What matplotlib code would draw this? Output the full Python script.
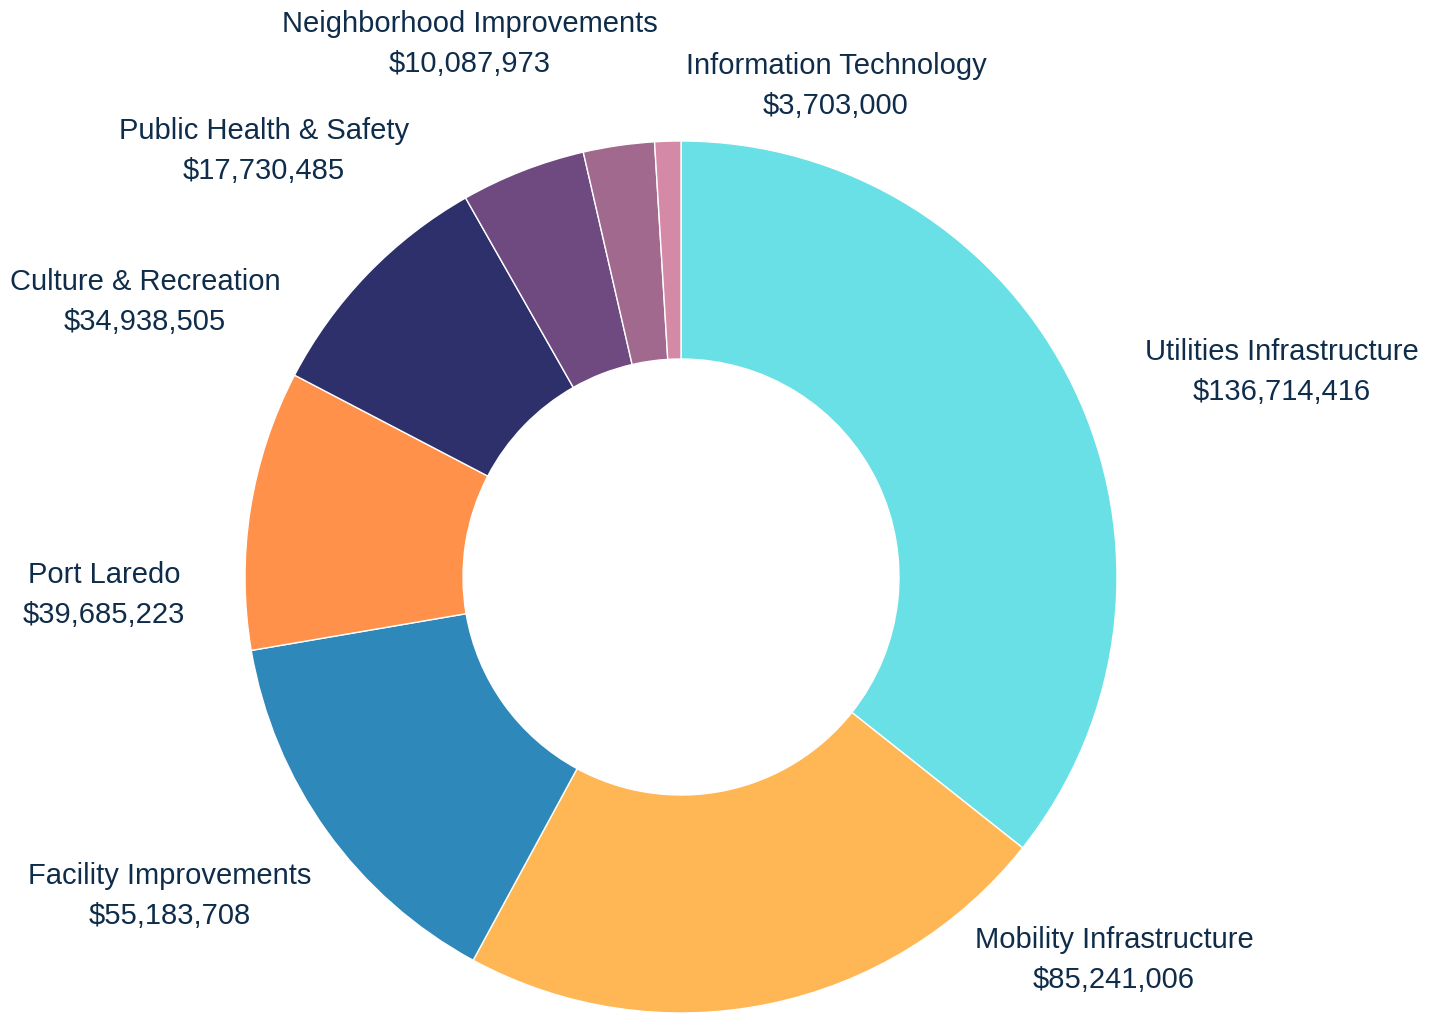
import matplotlib
matplotlib.use("Agg")
import matplotlib.pyplot as plt

# budget by program category (clockwise from the top)
categories = ["Utilities Infrastructure", "Mobility Infrastructure", "Facility Improvements",
              "Port Laredo", "Culture & Recreation", "Public Health & Safety",
              "Neighborhood Improvements", "Information Technology"]
amounts = [136714416, 85241006, 55183708, 39685223, 34938505, 17730485, 10087973, 3703000]
colors = ["#69e0e6", "#ffb755", "#2e88b9", "#ff914a", "#2d306b", "#6f4a80", "#a2698f", "#d48aa6"]

# label centres in pixels (x, y from top)
label_pos = [(1282, 372), (1114, 960), (170, 896), (104, 595),
             (145, 302), (264, 151), (470, 44), (836, 86)]

W, H = 1436, 1013
cx, cy, R = 681, 577, 436

plt.rcParams['font.family'] = ['Liberation Sans', 'DejaVu Sans']
fig = plt.figure(figsize=(W / 100, H / 100), dpi=100)
ax = fig.add_axes([0, 0, 1, 1])

ax.pie(amounts, colors=colors, startangle=90, counterclock=False, radius=1,
       wedgeprops=dict(width=0.5, edgecolor="white", linewidth=1))
ax.set_xlim(-cx / R, (W - cx) / R)
ax.set_ylim((cy - H) / R, cy / R)
ax.set_aspect("equal")
ax.axis("off")

for name, val, (px, py) in zip(categories, amounts, label_pos):
    fig.text(px / W, 1 - py / H, f"{name}\n${val:,}", ha="center", va="center",
             fontsize=21, color="#0f2d4a", linespacing=1.52)

fig.savefig("out.png", dpi=100)
